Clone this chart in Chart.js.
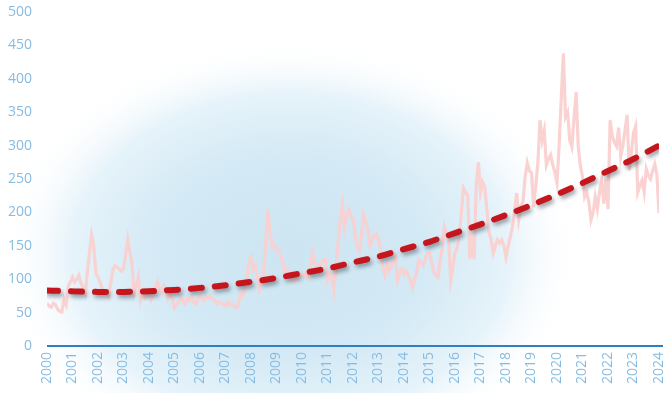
<!DOCTYPE html>
<html>
<head>
<meta charset="utf-8">
<script src="https://cdn.jsdelivr.net/npm/chart.js@4/dist/chart.umd.min.js"></script>
<style>
  html, body { margin: 0; padding: 0; background: #ffffff; }
  #wrap { width: 663px; height: 393px; position: relative; }
</style>
</head>
<body>
<div id="wrap"><canvas id="c" width="663" height="393"></canvas></div>
<script>
// Monthly series, January 2000 to January 2024
const startYear = 2000;
const monthly = [
  // 2000
  64, 60, 58, 64, 62, 55, 52, 51, 70, 62, 90, 96,
  // 2001
  103, 96, 100, 106, 94, 88, 79, 110, 140, 166, 150, 109,
  // 2002
  103, 95, 85, 80, 82, 75, 95, 114, 120, 118, 115, 112,
  // 2003
  116, 135, 159, 140, 124, 79, 90, 103, 69, 80, 72, 75,
  // 2004
  82, 70, 78, 88, 96, 85, 80, 90, 84, 72, 80, 70,
  // 2005
  57, 62, 66, 72, 68, 63, 72, 68, 74, 65, 62, 70,
  // 2006
  75, 70, 68, 74, 72, 75, 70, 68, 63, 66, 64, 62,
  // 2007
  60, 66, 62, 64, 60, 57, 60, 79, 76, 84, 100, 125,
  // 2008
  133, 114, 120, 105, 84, 95, 114, 160, 204, 170, 148, 150,
  // 2009
  146, 143, 135, 124, 109, 114, 105, 100, 96, 98, 103, 106,
  // 2010
  106, 104, 110, 103, 120, 139, 124, 122, 118, 124, 128, 130,
  // 2011
  100, 110, 103, 84, 120, 154, 190, 211, 178, 195, 204, 195,
  // 2012
  189, 168, 148, 143, 165, 196, 185, 173, 150, 158, 166, 168,
  // 2013
  160, 144, 118, 106, 124, 112, 118, 128, 133, 99, 110, 115,
  // 2014
  108, 112, 106, 98, 88, 100, 112, 129, 125, 121, 130, 139,
  // 2015
  139, 125, 112, 105, 103, 129, 147, 178, 168, 159, 99, 118,
  // 2016
  140, 147, 163, 200, 236, 230, 225, 131, 154, 130, 241, 275,
  // 2017
  230, 245, 238, 205, 170, 159, 139, 150, 159, 154, 159, 150,
  // 2018
  133, 150, 163, 178, 200, 229, 190, 210, 216, 253, 274, 262,
  // 2019
  260, 208, 240, 274, 338, 308, 323, 271, 280, 286, 271, 260,
  // 2020
  244, 300, 370, 438, 343, 350, 308, 298, 340, 380, 298, 270,
  // 2021
  253, 223, 230, 215, 189, 200, 223, 205, 230, 248, 213, 250,
  // 2022
  205, 338, 314, 305, 299, 327, 284, 300, 323, 346, 263, 290,
  // 2023
  319, 329, 230, 240, 248, 230, 265, 255, 250, 262, 272, 257,
  // 2024
  199
];

// Long-run trend, one value per year
const trendYears = [2000, 2001, 2002, 2003, 2004, 2005, 2006, 2007, 2008, 2009, 2010, 2011, 2012,
                    2013, 2014, 2015, 2016, 2017, 2018, 2019, 2020, 2021, 2022, 2023, 2024];
const trendValues = [83, 82, 81, 81, 82, 84, 87, 91, 96, 102, 109, 116, 125,
                     134, 145, 156, 169, 182, 196, 211, 227, 244, 262, 280, 300];

const yTicks = { min: 0, max: 500, step: 50 };

const monthlyPoints = monthly.map((v, i) => ({ x: startYear + i / 12, y: v }));
const trendPoints = trendYears.map((yr, i) => ({ x: yr, y: trendValues[i] }));

// Soft blue glow behind the plot
const glow = {
  id: 'glow',
  beforeDraw(chart) {
    const ctx = chart.ctx;
    ctx.save();
    ctx.fillStyle = '#ffffff';
    ctx.fillRect(0, 0, chart.width, chart.height);
    const cx = 290, cy = 255, rx = 292, ry = 215;
    ctx.translate(cx, cy);
    ctx.scale(rx / ry, 1);
    const g = ctx.createRadialGradient(0, 0, 0, 0, 0, ry);
    g.addColorStop(0, '#cde5f2');
    g.addColorStop(0.45, '#d3e9f5');
    g.addColorStop(0.75, '#e6f3fa');
    g.addColorStop(1, 'rgba(255,255,255,0)');
    ctx.fillStyle = g;
    ctx.beginPath();
    ctx.arc(0, 0, ry, 0, Math.PI * 2);
    ctx.fill();
    ctx.restore();
  }
};

// Baseline along the x axis
const baseline = {
  id: 'baseline',
  beforeDatasetsDraw(chart) {
    const { ctx, chartArea } = chart;
    const y = chart.scales.y.getPixelForValue(0);
    ctx.save();
    ctx.strokeStyle = '#2f80c3';
    ctx.lineWidth = 2;
    ctx.beginPath();
    ctx.moveTo(chartArea.left, y);
    ctx.lineTo(chart.width, y);
    ctx.stroke();
    ctx.restore();
  }
};

// Drop shadow under the dashed trend line
const trendShadow = {
  id: 'trendShadow',
  beforeDatasetDraw(chart, args) {
    if (args.index !== 1) return;
    const ctx = chart.ctx;
    ctx.save();
    ctx.shadowColor = 'rgba(40,50,60,0.45)';
    ctx.shadowBlur = 4;
    ctx.shadowOffsetX = 2;
    ctx.shadowOffsetY = 3;
  },
  afterDatasetDraw(chart, args) {
    if (args.index !== 1) return;
    chart.ctx.restore();
  }
};

const tickColor = '#86bce2';
const tickFont = { family: '"Open Sans", "DejaVu Sans", sans-serif', size: 14 };

new Chart(document.getElementById('c'), {
  type: 'line',
  data: {
    datasets: [
      {
        data: monthlyPoints,
        borderColor: 'rgba(250,208,208,0.95)',
        borderWidth: 3.2,
        pointRadius: 0,
        tension: 0,
        order: 2
      },
      {
        data: trendPoints,
        borderColor: '#c4161c',
        borderWidth: 6,
        borderDash: [11, 13],
        borderCapStyle: 'round',
        pointRadius: 0,
        cubicInterpolationMode: 'monotone',
        order: 1
      }
    ]
  },
  options: {
    responsive: false,
    animation: false,
    devicePixelRatio: 1,
    layout: { padding: { top: 12, right: 4, left: 0, bottom: 0 } },
    plugins: {
      legend: { display: false },
      tooltip: { enabled: false },
      title: { display: false }
    },
    scales: {
      x: {
        type: 'linear',
        min: trendYears[0],
        max: trendYears[trendYears.length - 1],
        border: { display: false },
        grid: { display: false, drawTicks: false },
        ticks: {
          stepSize: 1,
          autoSkip: false,
          minRotation: 90,
          maxRotation: 90,
          padding: 6,
          color: tickColor,
          font: tickFont,
          callback: v => String(v)
        },
        afterFit: s => {
          s.height = 47;
          s.paddingLeft = 0;
          s.paddingRight = 0;
        }
      },
      y: {
        min: yTicks.min,
        max: yTicks.max,
        border: { display: false },
        grid: { display: false, drawTicks: false },
        ticks: {
          stepSize: yTicks.step,
          padding: 15,
          color: tickColor,
          font: tickFont
        },
        afterFit: s => {
          s.width = 47;
          s.paddingTop = 0;
          s.paddingBottom = 0;
        }
      }
    }
  },
  plugins: [glow, baseline, trendShadow]
});
</script>
</body>
</html>
